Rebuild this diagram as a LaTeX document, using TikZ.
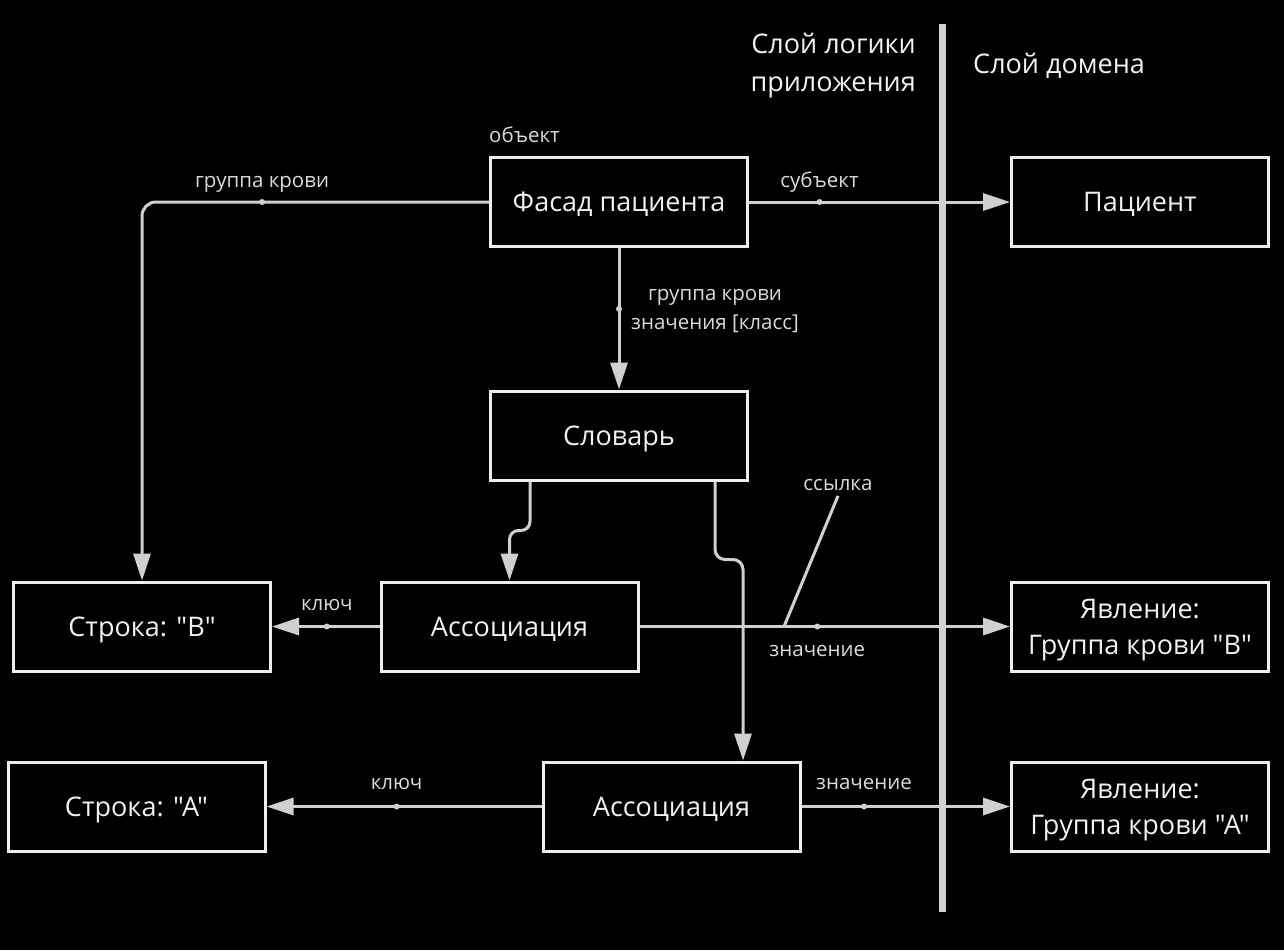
\documentclass[tikz,border=0pt]{standalone}
\usepackage{fontspec}
\setmainfont{Open Sans}[Ligatures=TeXOff]
\usetikzlibrary{arrows.meta,calc}
\definecolor{boxcol}{HTML}{EEEEEE}
\definecolor{linecol}{HTML}{D0D0D0}
\definecolor{txtcol}{HTML}{F2F2F2}
\definecolor{lblcol}{HTML}{DADADA}
\tikzset{
  box/.style={draw=boxcol, line width=3pt, minimum width=257pt, minimum height=89pt, inner sep=0pt, text=txtcol, font=\fontsize{27}{36}\selectfont, align=center, text depth=0pt},
  conn/.style={draw=linecol, line width=3pt, -{Triangle[length=27pt,width=17pt]}},
  plainconn/.style={draw=linecol, line width=3pt},
  lbl/.style={text=lblcol, font=\fontsize{20.5}{29}\selectfont, inner sep=0pt},
  dotmark/.style={circle, fill=linecol, minimum size=6pt, inner sep=0pt},
  hdr/.style={text=txtcol, font=\fontsize{27}{38}\selectfont, inner sep=0pt}
}
\begin{document}
\begin{tikzpicture}[x=1pt,y=-1pt]
\fill[black] (0,0) rectangle (1284,950);
\useasboundingbox (0,0) rectangle (1284,950);
% layer bar
\draw[line width=7pt, linecol] (942,24) -- (942,912);
% headers
\node[hdr, align=right, anchor=east] (hl) at (916,66) {Слой логики\\приложения};
\node[hdr, anchor=west] (hd) at (973,66) {Слой домена};
% boxes
\node[box] (facade) at (619,202) {Фасад пациента};
\node[box] (patient) at (1140,202) {Пациент};
\node[box] (dict) at (619,435.5) {Словарь};
\node[box] (strB) at (142,626.5) {Строка: "B"};
\node[box] (assoc1) at (509.5,626.5) {Ассоциация};
\node[box] (phenB) at (1140,626.5) {Явление:\\Группа крови "B"};
\node[box] (strA) at (136.5,806.5) {Строка: "A"};
\node[box] (assoc2) at (671.5,806.5) {Ассоциация};
\node[box] (phenA) at (1140,806.5) {Явление:\\Группа крови "A"};
% object label
\node[lbl, anchor=west] (obj) at (489,135) {объект};
% connectors
\draw[conn, rounded corners=14pt] (facade.west) -| node[pos=0.327, dotmark] (d1) {} (strB.north);
\node[lbl] (l1) at ($(d1)+(0,-18)$) {группа крови};
\draw[conn] (facade.east) -- node[pos=0.27, dotmark] (d2) {} (patient.west);
\node[lbl] (l2) at ($(d2)+(0,-20)$) {субъект};
\draw[conn] (facade.south) -- node[pos=0.43, dotmark] (d3) {} (dict.north);
\node[lbl, align=center] (l3) at ($(d3)+(96,2)$) {группа крови\\значения [класс]};
\draw[conn, rounded corners=9pt] ([xshift=-89pt]dict.south) -- ++(0,49) -| (assoc1.north);
\draw[conn, rounded corners=10pt] ([xshift=96pt]dict.south) -- ++(0,78) -| ([xshift=71.5pt]assoc2.north);
\draw[conn] (assoc1.west) -- node[pos=0.49, dotmark] (d6) {} (strB.east);
\node[lbl] (l6) at ($(d6)+(0,-21)$) {ключ};
\draw[conn] (assoc1.east) -- node[pos=0.48, dotmark] (d7) {} coordinate[pos=0.39] (ref) (phenB.west);
\node[lbl] (l7) at ($(d7)+(0,25)$) {значение};
\node[lbl] (l7b) at (838,485) {ссылка};
\draw[plainconn] ([yshift=-5pt]l7b.south) -- (ref);
\draw[conn] (assoc2.west) -- node[pos=0.527, dotmark] (d8) {} (strA.east);
\node[lbl] (l8) at ($(d8)+(0,-22)$) {ключ};
\draw[conn] (assoc2.east) -- node[pos=0.30, dotmark] (d9) {} (phenA.west);
\node[lbl] (l9) at ($(d9)+(0,-22)$) {значение};
\end{tikzpicture}
\end{document}
